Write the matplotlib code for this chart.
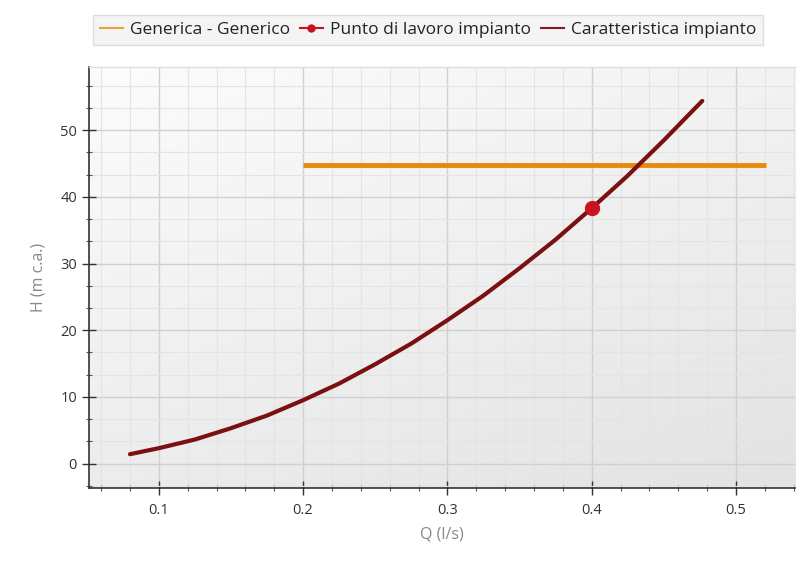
import matplotlib
matplotlib.use("Agg")
import matplotlib.pyplot as plt
import numpy as np
from matplotlib.ticker import MultipleLocator, AutoMinorLocator
from matplotlib.colors import LinearSegmentedColormap
from matplotlib.lines import Line2D

# Data
q_curve = [0.08, 0.1, 0.125, 0.15, 0.175, 0.2, 0.225, 0.25, 0.275, 0.3,
           0.325, 0.35, 0.375, 0.4, 0.425, 0.45, 0.4766]
h_curve = [1.4, 2.3, 3.6, 5.3, 7.2, 9.5, 12.0, 14.9, 18.0, 21.5,
           25.2, 29.3, 33.6, 38.3, 43.2, 48.5, 54.4]
q_pump = [0.2, 0.521]
h_pump = [44.8, 44.8]
q_point = [0.4]
h_point = [38.3]
labels = ["Generica - Generico", "Punto di lavoro impianto", "Caratteristica impianto"]

plt.rcParams['font.family'] = ['Open Sans', 'DejaVu Sans']

fig = plt.figure(figsize=(8, 5.67), dpi=100)
ax = fig.add_axes([0.111, 0.139, 0.883, 0.743])
ax.set_xlim(0.0515, 0.541)
ax.set_ylim(-3.7, 59.5)

# gradient background
cmap = LinearSegmentedColormap.from_list('bg', ['#fcfcfc', '#e3e3e3'])
yy, xx = np.mgrid[0:1:100j, 0:1:100j]
grad = (0.6 * xx + 1.0 * yy) / 1.6
ax.imshow(grad, extent=[0, 1, 0, 1], transform=ax.transAxes, cmap=cmap,
          vmin=0, vmax=1, origin='upper', aspect='auto', zorder=0,
          interpolation='bilinear')

ax.xaxis.set_major_locator(MultipleLocator(0.1))
ax.xaxis.set_minor_locator(AutoMinorLocator(5))
ax.yaxis.set_major_locator(MultipleLocator(10))
ax.yaxis.set_minor_locator(AutoMinorLocator(3))
ax.grid(which='major', color='#d0d0d0', linewidth=1.0, zorder=1)
ax.grid(which='minor', color='#e4e4e4', linewidth=0.8, zorder=1)
ax.set_axisbelow(True)

ax.plot(q_pump, h_pump, color='#e8890c', linewidth=3.5, solid_capstyle='butt',
        zorder=3, label=labels[0])
ax.plot(q_curve, h_curve, color='#7a1010', linewidth=3, zorder=4,
        solid_capstyle='round', solid_joinstyle='round', label=labels[2])
ax.plot(q_point, h_point, 'o', color='#c8141e', markersize=10, zorder=5,
        label=labels[1])

ax.spines['right'].set_visible(False)
ax.spines['top'].set_color('#dddddd')
ax.spines['top'].set_linewidth(1.0)
for s in ['left', 'bottom']:
    ax.spines[s].set_color('#333333')
    ax.spines[s].set_linewidth(1.2)

ax.tick_params(which='major', direction='inout', length=10, width=1,
               colors='#333333', labelsize=10.5, labelcolor='#333333')
ax.tick_params(which='minor', direction='inout', length=5, width=0.8,
               colors='#555555')
ax.tick_params(axis='x', pad=6)

ax.set_xlabel('Q (l/s)', color='#888888', fontsize=11.5, labelpad=6)
ax.set_ylabel('H (m c.a.)', color='#888888', fontsize=11.5, labelpad=10)

# legend
handles = [
    Line2D([], [], color='#e8a040', linewidth=1.5),
    Line2D([], [], color='#c8141e', linewidth=1.5, marker='o', markersize=5),
    Line2D([], [], color='#8a1a1a', linewidth=1.5),
]
leg = fig.legend(handles, labels, loc='center', bbox_to_anchor=(0.535, 0.947),
                 ncol=3, frameon=True, fontsize=12.5, handlelength=1.3,
                 handletextpad=0.4, columnspacing=0.6, borderpad=0.4,
                 fancybox=False)
leg.get_frame().set_facecolor('#f2f2f2')
leg.get_frame().set_edgecolor('#d8d8d8')
for t in leg.get_texts():
    t.set_color('#222222')

fig.savefig('out.png', dpi=100)
